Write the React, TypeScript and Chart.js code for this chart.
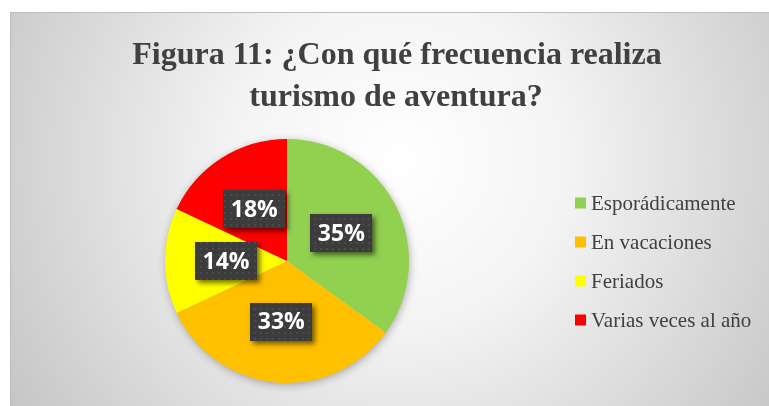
import React, { useEffect, useRef } from "react";
import { Chart, registerables } from "chart.js";

Chart.register(...registerables);

const titleLines = ["Figura 11: ¿Con qué frecuencia realiza", "turismo de aventura?"];
const categories = ["Esporádicamente", "En vacaciones", "Feriados", "Varias veces al año"];
const values = [35, 33, 14, 18];
const colors = ["#92D050", "#FFC000", "#FFFF00", "#FF0000"];

const W = 769;
const H = 406;

function makePattern(ctx: CanvasRenderingContext2D) {
  const c = document.createElement("canvas");
  c.width = 6;
  c.height = 6;
  const p = c.getContext("2d")!;
  p.fillStyle = "#3c3c3c";
  p.fillRect(0, 0, 6, 6);
  p.fillStyle = "#4a4a4a";
  p.fillRect(2, 2, 2, 2);
  return ctx.createPattern(c, "repeat");
}

const decor = {
  id: "decor",
  beforeDraw(chart: any) {
    const ctx = chart.ctx as CanvasRenderingContext2D;
    ctx.save();
    ctx.fillStyle = "#ffffff";
    ctx.fillRect(0, 0, W, H);
    const g = ctx.createRadialGradient(400, 160, 0, 400, 160, 470);
    g.addColorStop(0, "#ffffff");
    g.addColorStop(0.35, "#f4f4f4");
    g.addColorStop(1, "#c4c4c4");
    ctx.fillStyle = g;
    ctx.fillRect(10, 12, W - 10, H - 12);
    ctx.strokeStyle = "#bdbdbd";
    ctx.lineWidth = 1;
    ctx.beginPath();
    ctx.moveTo(10.5, H);
    ctx.lineTo(10.5, 12.5);
    ctx.lineTo(W, 12.5);
    ctx.stroke();
    ctx.restore();
  },
  beforeDatasetsDraw(chart: any) {
    const ctx = chart.ctx as CanvasRenderingContext2D;
    const arc = chart.getDatasetMeta(0).data[0];
    if (!arc) return;
    const { x, y, outerRadius } = arc.getProps(["x", "y", "outerRadius"], true);
    ctx.save();
    ctx.shadowColor = "rgba(0,0,0,0.35)";
    ctx.shadowBlur = 10;
    ctx.shadowOffsetX = 1;
    ctx.shadowOffsetY = 2;
    ctx.fillStyle = "#cccccc";
    ctx.beginPath();
    ctx.arc(x, y, outerRadius - 1, 0, Math.PI * 2);
    ctx.fill();
    ctx.restore();
  },
  afterDatasetsDraw(chart: any) {
    const ctx = chart.ctx as CanvasRenderingContext2D;
    const meta = chart.getDatasetMeta(0);
    const total = values.reduce((a, b) => a + b, 0);
    const pattern = makePattern(ctx);
    ctx.save();
    ctx.font = "bold 23px 'Open Sans'";
    ctx.textAlign = "center";
    ctx.textBaseline = "middle";
    meta.data.forEach((arc: any, i: number) => {
      const pos = arc.tooltipPosition(true);
      const text = Math.round((values[i] / total) * 100) + "%";
      const bw = 62;
      const bh = 38;
      const bx = Math.round(pos.x - bw / 2);
      const by = Math.round(pos.y - bh / 2);
      ctx.save();
      ctx.shadowColor = "rgba(0,0,0,0.55)";
      ctx.shadowBlur = 5;
      ctx.shadowOffsetX = 3;
      ctx.shadowOffsetY = 3;
      ctx.fillStyle = "#3c3c3c";
      ctx.fillRect(bx, by, bw, bh);
      ctx.restore();
      ctx.fillStyle = pattern || "#3c3c3c";
      ctx.fillRect(bx, by, bw, bh);
      ctx.fillStyle = "#ffffff";
      ctx.fillText(text, pos.x, pos.y + 1);
    });
    ctx.restore();
  },
  afterDraw(chart: any) {
    const ctx = chart.ctx as CanvasRenderingContext2D;
    ctx.save();
    ctx.fillStyle = "#404040";
    ctx.textAlign = "center";
    ctx.textBaseline = "alphabetic";
    ctx.font = "bold 32px 'Liberation Serif'";
    ctx.fillText(titleLines[0], 397, 64);
    ctx.fillText(titleLines[1], 396, 106);
    ctx.font = "21px 'Liberation Serif'";
    ctx.textAlign = "left";
    ctx.textBaseline = "middle";
    const ds = chart.data.datasets[0];
    chart.data.labels.forEach((label: string, i: number) => {
      const cy = 203 + i * 39;
      ctx.fillStyle = ds.backgroundColor[i];
      ctx.fillRect(575, cy - 5.5, 11, 11);
      ctx.fillStyle = "#404040";
      ctx.fillText(label, 591, cy + 1);
    });
    ctx.restore();
  },
};

export default function App() {
  const ref = useRef<HTMLCanvasElement>(null);
  useEffect(() => {
    if (!ref.current) return;
    const chart = new Chart(ref.current, {
      type: "pie",
      data: {
        labels: categories,
        datasets: [
          {
            data: values,
            backgroundColor: colors,
            borderWidth: 0,
          },
        ],
      },
      options: {
        responsive: false,
        animation: false,
        layout: { padding: { left: 165, right: W - 409, top: 139, bottom: H - 383 } },
        plugins: {
          legend: { display: false },
          title: { display: false },
          tooltip: { enabled: false },
        },
      },
      plugins: [decor],
    });
    return () => chart.destroy();
  }, []);
  return (
    <div style={{ position: "fixed", left: 0, top: 0, width: W, height: H }}>
      <canvas ref={ref} width={W} height={H} style={{ display: "block" }} />
    </div>
  );
}
